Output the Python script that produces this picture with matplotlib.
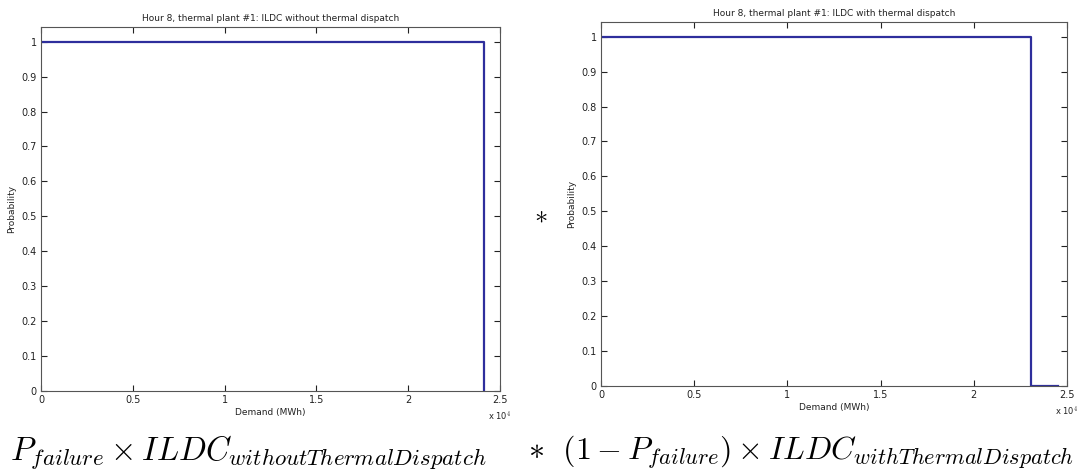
import matplotlib.pyplot as plt
from matplotlib.ticker import FuncFormatter

# ILDC curves for hour 8, thermal plant #1 (demand in MWh)
demand_without = [0, 24130, 24130]
prob_without = [1.0, 1.0, 0.0]
demand_with = [0, 23070, 23070, 24500]
prob_with = [1.0, 1.0, 0.0, 0.0]

titles = ["Hour 8, thermal plant #1: ILDC without thermal dispatch",
          "Hour 8, thermal plant #1: ILDC with thermal dispatch"]
xticks = [0, 5000, 10000, 15000, 20000, 25000]
yticks = [0, 0.1, 0.2, 0.3, 0.4, 0.5, 0.6, 0.7, 0.8, 0.9, 1.0]

line_color = "#2e2e9c"
grey = "#555555"

plt.rcParams['mathtext.fontset'] = 'cm'
fig = plt.figure(figsize=(10.84, 4.73), dpi=100)

# axes positions in figure fractions (left, bottom, width, height)
boxes = [[41 / 1084, 1 - 391 / 473, 459 / 1084, 364 / 473],
         [601 / 1084, 1 - 386 / 473, 466 / 1084, 364 / 473]]
series = [(demand_without, prob_without), (demand_with, prob_with)]

def fmt_x(v, pos):
    v = v / 1e4
    return "%g" % v

for box, (xs, ys), title in zip(boxes, series, titles):
    ax = fig.add_axes(box)
    ax.plot(xs, ys, color=line_color, lw=1.6)
    ax.set_xlim(0, 25000)
    ax.set_ylim(0, 1.042)
    ax.set_xticks(xticks)
    ax.set_yticks(yticks)
    ax.xaxis.set_major_formatter(FuncFormatter(fmt_x))
    ax.yaxis.set_major_formatter(FuncFormatter(lambda v, p: "%g" % round(v, 1)))
    ax.tick_params(direction='in', top=True, right=True, length=4,
                   labelsize=7, colors='#222222', pad=3)
    for s in ax.spines.values():
        s.set_color(grey)
        s.set_linewidth(0.8)
    ax.set_title(title, fontsize=6.5, pad=4, color='#222222')
    ax.set_xlabel("Demand (MWh)", fontsize=6.5, labelpad=2, color='#222222')
    ax.set_ylabel("Probability", fontsize=6.5, labelpad=4, color='#222222')
    ax.text(1.0, -0.05, r"x 10$^4$", transform=ax.transAxes, fontsize=6,
            ha='center', va='top', color='#222222')

# multiplication-like star between the panels and the formulas below
fig.text(541 / 1084, 1 - 215 / 473, r"$\ast$", fontsize=19, ha='center', va='center')
fig.text(10 / 1084, 1 - 452 / 473,
         r"$P_{failure} \times ILDC_{withoutThermalDispatch}$",
         fontsize=23.5, ha='left', va='center')
fig.text(528 / 1084, 1 - 452 / 473,
         r"$\ast\ \ (1 - P_{failure}) \times ILDC_{withThermalDispatch}$",
         fontsize=23, ha='left', va='center')

fig.savefig("out.png", dpi=100)
